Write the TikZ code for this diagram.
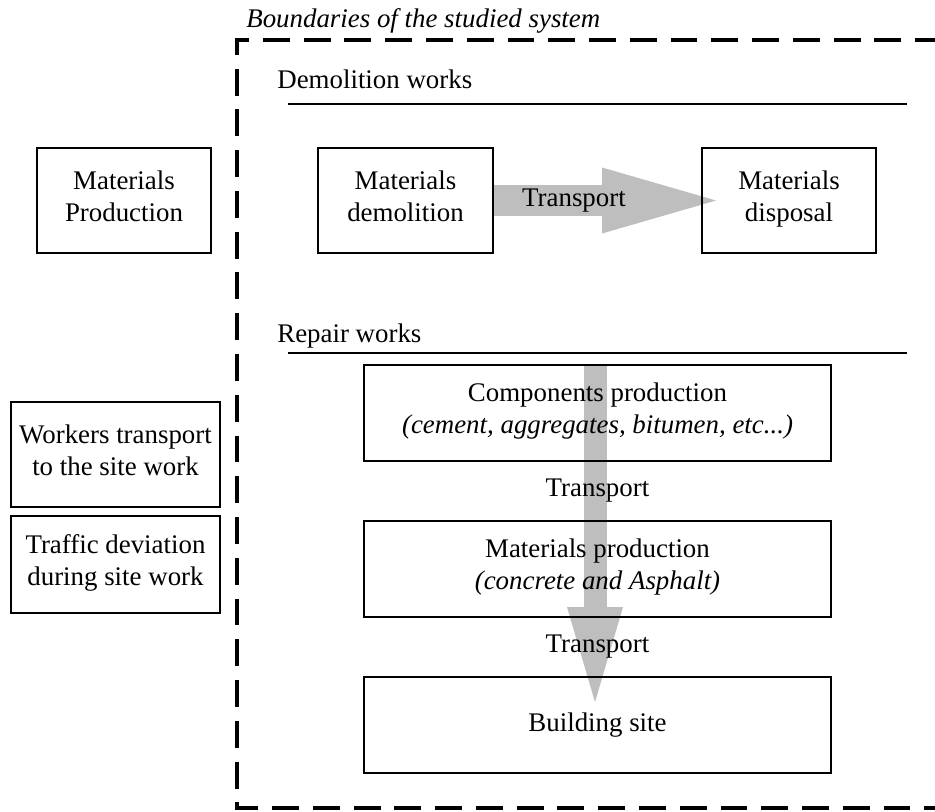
\documentclass[tikz,border=0pt]{standalone}
\usepackage{fontspec}
\setmainfont{Liberation Serif}
\usetikzlibrary{calc,arrows.meta,backgrounds}
\begin{document}
\begin{tikzpicture}[x=0.02cm,y=-0.02cm]
            \tikzset{
                procbox/.style={draw,line width=1.1pt,align=center,inner sep=0pt,
                    font=\fontsize{15.3}{18.2}\selectfont,
                    execute at begin node=\strut,execute at end node=\strut},
                plaintext/.style={inner sep=0pt,font=\fontsize{15.3}{18.2}\selectfont},
                flowarrow/.style args={#1 with #2 by #3}{draw={rgb,255:red,190;green,190;blue,190},line width=#1,
                    -{Triangle[length=#2 0 0,width=#3 0 0,line width=0pt]}},}
            \useasboundingbox (0,0) rectangle (935,811);
            % boundary of the system
            \node[plaintext,anchor=base west,font=\fontsize{15.3}{18.2}\selectfont\itshape] (bound) at (246,28) {Boundaries of the studied system};
            \draw [line width=2.3pt,dash pattern=on 15.3pt off 7.9pt,dash phase=4pt] (935,40) -- (237,40) -- (237,808) -- (935,808);
            % outside
            \node[procbox,minimum width=3.48cm,minimum height=2.1cm] (matprod) at (124,200.5) {Materials\\Production};
            \node[procbox,minimum width=4.18cm,minimum height=2.1cm] (workers) at (115.5,454.5) {Workers transport\\to the site work};
            \node[procbox,minimum width=4.18cm,minimum height=1.94cm] (traffic) at (115.5,564.5) {Traffic deviation\\during site work};
            % demolition
            \node[plaintext,anchor=base west] (demtitle) at (277,89) {Demolition works};
            \draw [line width=1.1pt] (288,104) -- (907,104);
            \node[procbox,minimum width=3.5cm,minimum height=2.1cm] (demol) at (405.5,200.5) {Materials\\demolition};
            \node[procbox,minimum width=3.48cm,minimum height=2.1cm] (disp) at (789,200.5) {Materials\\disposal};
            \node[plaintext] (trans1) at (574,201) {Transport};
            % repair
            \node[plaintext,anchor=base west] (reptitle) at (277,342) {Repair works};
            \draw [line width=1.1pt] (288,353) -- (907,353);
            \node[procbox,minimum width=9.34cm,minimum height=1.92cm] (comp) at (597.5,413) {Components production\\\textit{(cement, aggregates, bitumen, etc...)}};
            \node[procbox,minimum width=9.34cm,minimum height=1.92cm] (mix) at (597.5,569) {Materials production\\\textit{(concrete and Asphalt)}};
            \node[procbox,minimum width=9.34cm,minimum height=1.92cm] (site) at (597.5,725) {Building site};
            \node[plaintext] (trans2) at ($(comp.south)!0.5!(mix.north)$) {Transport};
            \node[plaintext] (trans3) at ($(mix.south)!0.5!(site.north)$) {Transport};
            \begin{scope}[on background layer]
                \draw [flowarrow=0.64cm with 2.28cm by 1.32cm] (demol.east) -- ($(disp.west)+(15,0)$);
                \draw [flowarrow=0.46cm with 1.9cm by 1.12cm] ($(comp.north)+(-2.5,2)$) -- ($(site.north)+(-2.5,26)$);
            \end{scope}
        \end{tikzpicture}
\end{document}
